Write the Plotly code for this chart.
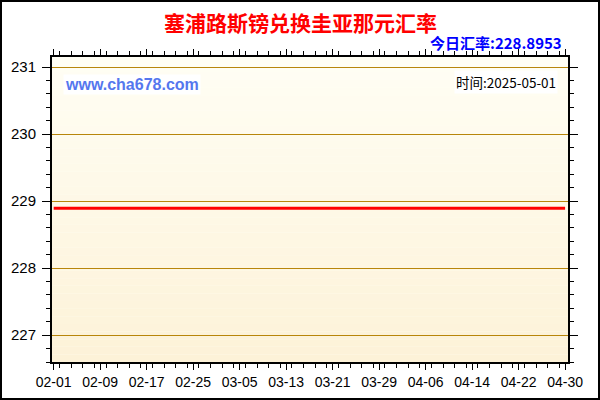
import plotly.graph_objects as go

# Data
dates = ["2025-02-01", "2025-02-09", "2025-02-17", "2025-02-25", "2025-03-05",
         "2025-03-13", "2025-03-21", "2025-03-29", "2025-04-06", "2025-04-14",
         "2025-04-22", "2025-04-30"]
rates = [228.8953, 228.8953, 228.8953, 228.8953, 228.8953, 228.8953,
         228.8953, 228.8953, 228.8953, 228.8953, 228.8953, 228.8953]
title_text = "塞浦路斯镑兑换圭亚那元汇率"
today_label = "今日汇率:228.8953"
site_label = "www.cha678.com"
time_label = "时间:2025-05-01"

L, R, T, B = 52, 32, 57, 38
W, H = 600, 400
pw, ph = W - L - R, H - T - B

fig = go.Figure()
fig.add_trace(go.Scatter(x=dates, y=rates, mode="lines",
                         line=dict(color="#FF0000", width=3), hoverinfo="skip"))

shapes = []
# vertical gradient background bands
n = 40
c_top = (255, 254, 244)
c_bot = (253, 242, 216)
for i in range(n):
    t = i / (n - 1)
    c = tuple(round(c_top[k] + (c_bot[k] - c_top[k]) * t) for k in range(3))
    shapes.append(dict(type="rect", xref="x domain", yref="y domain",
                       x0=0, x1=1, y0=1 - (i + 1) / n, y1=1 - i / n,
                       fillcolor="rgb(%d,%d,%d)" % c, line=dict(width=0), layer="below"))
# outer border
shapes.append(dict(type="rect", xref="paper", yref="paper",
                   x0=-(L - 1) / pw, x1=1 + (R - 1) / pw,
                   y0=-(B - 1) / ph, y1=1 + (T - 1) / ph,
                   line=dict(color="black", width=2), fillcolor="rgba(0,0,0,0)"))

fig.update_layout(
    width=W, height=H,
    margin=dict(l=L, r=R, t=T, b=B, autoexpand=False),
    paper_bgcolor="white", plot_bgcolor="#FFFEF4",
    showlegend=False,
    shapes=shapes,
    font=dict(family="Liberation Sans, Arial", size=13, color="black"),
    annotations=[
        dict(text="<b>" + title_text + "</b>", xref="paper", yref="paper",
             x=(300 - L) / pw, y=1 + (T - 22) / ph, xanchor="center", yanchor="middle",
             showarrow=False, font=dict(size=21, color="#FF0000",
                                        family="Noto Sans CJK SC")),
        dict(text="<b>" + today_label + "</b>", xref="paper", yref="paper",
             x=(564 - L) / pw, y=1 + (T - 43) / ph, xanchor="right", yanchor="middle",
             showarrow=False, font=dict(size=15, color="#0000FF",
                                        family="Noto Sans CJK SC")),
        dict(text="<b>" + site_label + "</b>", xref="paper", yref="paper",
             x=(63 - L) / pw, y=1 - (84 - T) / ph, xanchor="left", yanchor="middle",
             showarrow=False, bgcolor="white",
             font=dict(size=16, color="#5577EE", family="Liberation Sans, Arial")),
        dict(text=time_label, xref="paper", yref="paper",
             x=(558 - L) / pw, y=1 - (82 - T) / ph, xanchor="right", yanchor="middle",
             showarrow=False, bgcolor="white",
             font=dict(size=13.5, color="black", family="Noto Sans CJK SC")),
    ],
)

fig.update_xaxes(
    type="date", range=["2025-01-31 17:00", "2025-04-30 12:00"],
    tick0="2025-02-01", dtick=8 * 86400000, tickformat="%m-%d",
    ticks="outside", ticklen=6, tickcolor="black", tickwidth=1,
    showgrid=False, zeroline=False, automargin=False,
    showline=True, linecolor="black", linewidth=2, mirror="ticks",
    minor=dict(dtick=2 * 86400000, ticks="outside", ticklen=4, tickcolor="black", showgrid=False),
    tickfont=dict(size=14, color="black"),
)
fig.update_yaxes(
    range=[226.6, 231.15], tick0=227, dtick=1,
    ticks="outside", ticklen=8, tickcolor="black", tickwidth=1,
    showgrid=True, gridcolor="#B8860B", gridwidth=1, zeroline=False, automargin=False,
    showline=True, linecolor="black", linewidth=2, mirror="ticks",
    minor=dict(dtick=0.2, ticks="outside", ticklen=4, tickcolor="black", showgrid=False),
    tickfont=dict(size=15, color="black"), ticklabelstandoff=3,
)

fig.write_html("out.html", config={"displayModeBar": False},
               post_script="document.body.style.margin='0px';document.body.style.overflow='hidden';")
